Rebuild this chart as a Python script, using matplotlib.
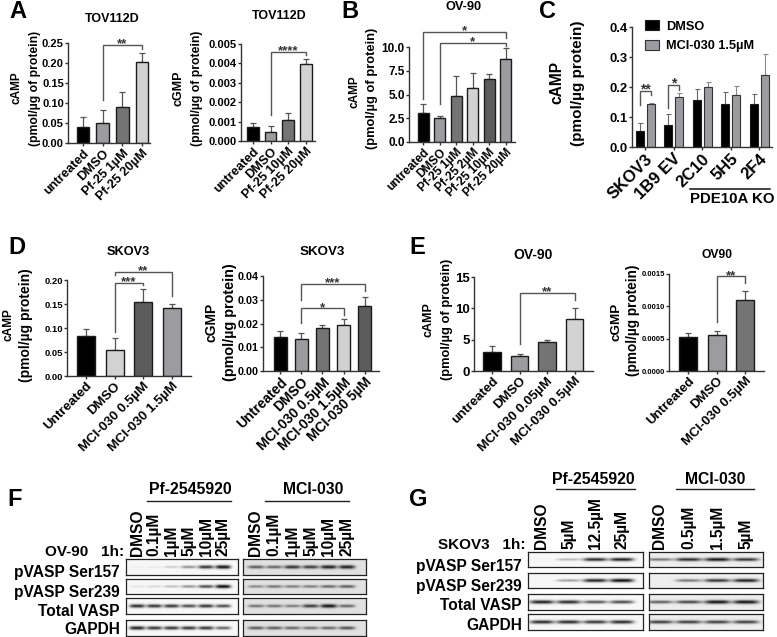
import numpy as np
import matplotlib
matplotlib.use("Agg")
import matplotlib.pyplot as plt

plt.rcParams['font.family'] = ['Liberation Sans', 'DejaVu Sans']
plt.rcParams['font.weight'] = 'bold'

W, H = 777, 637
BLACK, MID, DARK, LIGHT, DEEP = '#000000', '#9b9ba0', '#747474', '#d2d2d2', '#5c5c5c'
EDGE = '#1c1c1c'

# --- bar data ---
a1_labels = ['untreated', 'DMSO', 'Pf-25 1µM', 'Pf-25 20µM']
a1_values = [0.041, 0.049, 0.091, 0.203]
a1_errors = [0.024, 0.034, 0.036, 0.022]

a2_labels = ['untreated', 'DMSO', 'Pf-25 10µM', 'Pf-25 20µM']
a2_values = [0.00073, 0.00047, 0.00107, 0.00397]
a2_errors = [0.00019, 0.00028, 0.00036, 0.00026]

b_labels = ['untreated', 'DMSO', 'Pf-25 1µM', 'Pf-25 2µM', 'Pf-25 10µM', 'Pf-25 20µM']
b_values = [3.05, 2.55, 4.8, 5.65, 6.6, 8.75]
b_errors = [1.0, 0.2, 2.1, 1.65, 0.55, 1.1]

c_labels = ['SKOV3', '1B9 EV', '2C10', '5H5', '2F4']
c_dmso = [0.053, 0.075, 0.158, 0.144, 0.145]
c_dmso_err = [0.027, 0.035, 0.034, 0.038, 0.031]
c_mci = [0.142, 0.166, 0.200, 0.174, 0.240]
c_mci_err = [0.006, 0.014, 0.018, 0.028, 0.070]

d1_labels = ['Untreated', 'DMSO', 'MCI-030 0.5µM', 'MCI-030 1.5µM']
d1_values = [0.083, 0.054, 0.155, 0.142]
d1_errors = [0.014, 0.025, 0.026, 0.008]

d2_labels = ['Untreated', 'DMSO', 'MCI-030 0.5µM', 'MCI-030 1.5µM', 'MCI-030 5µM']
d2_values = [0.0143, 0.0135, 0.0180, 0.0194, 0.0275]
d2_errors = [0.0024, 0.0023, 0.0012, 0.0024, 0.0038]

e1_labels = ['untreated', 'DMSO', 'MCI-030 0.05µM', 'MCI-030 0.5µM']
e1_values = [3.05, 2.45, 4.55, 8.3]
e1_errors = [0.95, 0.25, 0.45, 1.8]

e2_labels = ['Untreated', 'DMSO', 'MCI-030 0.5µM']
e2_values = [0.00053, 0.00056, 0.00110]
e2_errors = [0.00006, 0.00006, 0.00014]

# --- blot band strengths, one row per antibody ---
f_left = [[.03, .05, .15, .40, .80, .95],
          [.08, .12, .22, .40, .70, 1.0],
          [.85, .80, .80, .70, .80, .70],
          [.90, .80, .80, .80, .80, .60]]
f_right = [[.60, .55, .80, .75, .90, .90],
           [.40, .50, .45, .45, .55, .60],
           [.50, .50, .45, .75, .95, .55],
           [.60, .60, .55, .50, .55, .65]]
g_left = [[.00, .25, .85, .90],
          [.00, .35, .90, 1.0],
          [.90, .85, .65, .70],
          [.85, .85, .80, .85]]
g_right = [[.50, .85, .95, .80],
           [.00, .50, .80, .90],
           [.60, .70, .95, .95],
           [.75, .75, .75, .75]]
f_lanes_left = ['DMSO', '0.1µM', '1µM', '5µM', '10µM', '25µM']
g_lanes_left = ['DMSO', '5µM', '12.5µM', '25µM']
g_lanes_right = ['DMSO', '0.5µM', '1.5µM', '5µM']
row_names = ['pVASP Ser157', 'pVASP Ser239', 'Total VASP', 'GAPDH']

fig = plt.figure(figsize=(W / 100, H / 100), dpi=100)


def px_axes(x0, x1, ytop, ybot):
    return fig.add_axes([x0 / W, 1 - ybot / H, (x1 - x0) / W, (ybot - ytop) / H])


def put(x, y, s, size=8, **kw):
    kw.setdefault('ha', 'center')
    kw.setdefault('va', 'center')
    fig.text(x / W, 1 - y / H, s, fontsize=size, **kw)


def style_axes(ax, yticks, yfmt, tick_size):
    for side in ['top', 'right']:
        ax.spines[side].set_visible(False)
    for side in ['left', 'bottom']:
        ax.spines[side].set_linewidth(1.0)
        ax.spines[side].set_color('#333333')
    ax.set_ylim(yticks[0], yticks[-1])
    ax.set_yticks(yticks)
    ax.set_yticklabels([yfmt % t for t in yticks], fontsize=tick_size)
    ax.tick_params(axis='both', length=2, width=1.0, pad=1, color='#333333')


def add_bracket(ax, i, j, y_start, y_top, y_end, stars, size=9.5):
    ax.plot([i, i, j, j], [y_start, y_top, y_top, y_end], color='#555555', lw=1.0, clip_on=False, solid_joinstyle='miter')
    ax.annotate(stars, ((i + j) / 2, y_top), xytext=(0, -4), textcoords='offset points', ha='center', va='bottom', fontsize=size, annotation_clip=False, color='#333333')


def bar_panel(box, first, step, width, labels, values, errors, colors, yticks, yfmt, tick_size=7.5, label_size=7.5, brackets=()):
    x0, x1, ytop, ybot = box
    ax = px_axes(*box)
    pos = np.arange(len(values))
    ax.bar(pos, values, width=width / step, color=colors, edgecolor=EDGE, linewidth=1.0, zorder=2)
    ax.errorbar(pos, values, yerr=[np.zeros(len(values)), errors], fmt='none', ecolor='#555555', elinewidth=0.9, capsize=2.2, capthick=0.9, zorder=1)
    ax.set_xlim((x0 - first) / step, (x1 - first) / step)
    style_axes(ax, yticks, yfmt, tick_size)
    ax.set_xticks(pos)
    ax.set_xticklabels(labels, rotation=45, ha='right', rotation_mode='anchor', fontsize=label_size)
    for b in brackets:
        add_bracket(ax, *b)
    return ax


# --- panel A ---
bar_panel((68, 150, 43, 143), 83, 19.7, 12.7, a1_labels, a1_values, a1_errors, [BLACK, MID, DARK, LIGHT],
          [0, 0.05, 0.10, 0.15, 0.20, 0.25], '%.2f', tick_size=8, label_size=9.2,
          brackets=[(1, 3, 0.1075, 0.245, 0.235, '**')])
put(112, 19, 'TOV112D', 9)
put(17, 88, 'cAMP', 8.5, rotation=90)
put(35, 88, '(pmol/µg of protein)', 8.7, rotation=90)

bar_panel((241, 315, 44, 141), 253, 17.6, 11.5, a2_labels, a2_values, a2_errors, [BLACK, MID, DARK, LIGHT],
          [0, 0.001, 0.002, 0.003, 0.004, 0.005], '%.3f', tick_size=8, label_size=9.2,
          brackets=[(1, 3, 0.00134, 0.0046, 0.00443, '****')])
put(279, 16, 'TOV112D', 9)
put(178, 88, 'cGMP', 9, rotation=90)
put(197, 88, '(pmol/µg of protein)', 8.8, rotation=90)

# --- panel B ---
bar_panel((409, 515, 47, 142), 423, 16.5, 11, b_labels, b_values, b_errors, [BLACK, MID, DARK, LIGHT, DEEP, MID],
          [0, 2.5, 5.0, 7.5, 10.0], '%.1f', tick_size=8.5, label_size=8.6,
          brackets=[(0, 5, 4.56, 11.58, 10.9, '*'), (1, 5, 4.0, 10.46, 10.1, '*')])
put(464, 7, 'OV-90', 9.2)
put(355, 92, 'cAMP', 8.5, rotation=90)
put(372, 88, '(pmol/µg of protein)', 9.3, rotation=90)

# --- panel C ---
axc = px_axes(632, 772, 27, 147)
c_pos = np.arange(len(c_labels))
c_step = 28.5
c_off = 5.5 / c_step
c_w = 8 / c_step
h1 = axc.bar(c_pos - c_off, c_dmso, width=c_w, color=BLACK, edgecolor=EDGE, linewidth=0.8, zorder=2, label='DMSO')
h2 = axc.bar(c_pos + c_off, c_mci, width=c_w, color=MID, edgecolor='#333333', linewidth=0.8, zorder=2, label='MCI-030 1.5µM')
axc.errorbar(c_pos - c_off, c_dmso, yerr=[np.zeros(5), c_dmso_err], fmt='none', ecolor='#666666', elinewidth=0.8, capsize=1.8, capthick=0.8, zorder=1)
axc.errorbar(c_pos + c_off, c_mci, yerr=[np.zeros(5), c_mci_err], fmt='none', ecolor='#888888', elinewidth=0.8, capsize=1.8, capthick=0.8, zorder=1)
axc.set_xlim((632 - 645) / c_step, (772 - 645) / c_step)
style_axes(axc, [0, 0.1, 0.2, 0.3, 0.4], '%.1f', 9.4)
axc.set_xticks(c_pos)
axc.set_xticklabels(c_labels, rotation=45, ha='right', rotation_mode='anchor', fontsize=12)
add_bracket(axc, -c_off, c_off, 0.139, 0.187, 0.172, '**', 10)
add_bracket(axc, 1 - c_off, 1 + c_off, 0.131, 0.208, 0.191, '*', 10)
axc.legend(handles=[h1, h2], loc='upper left', bbox_to_anchor=(0.09, 1.06), frameon=False, fontsize=9.2,
           handlelength=1.1, handleheight=0.9, handletextpad=0.55, labelspacing=0.55, borderpad=0, borderaxespad=0)
put(557, 83, 'cAMP', 11.2, rotation=90)
put(578, 83, '(pmol/µg protein)', 11, rotation=90)
fig.add_artist(plt.Line2D([690 / W, 770 / W], [1 - 189 / H, 1 - 189 / H], color='#111111', lw=1.1))
put(732, 199, 'PDE10A KO', 10.8)

# --- panel D ---
bar_panel((67, 191, 280, 376), 86, 28.6, 18, d1_labels, d1_values, d1_errors, [BLACK, LIGHT, DEEP, MID],
          [0, 0.05, 0.10, 0.15, 0.20], '%.2f', tick_size=6.8, label_size=9.6,
          brackets=[(1, 2, 0.091, 0.194, 0.19, '***'), (1, 3, 0.21, 0.217, 0.167, '**')])
put(128, 252, 'SKOV3', 9.2)
put(8, 325, 'cAMP', 8.6, rotation=90)
put(26, 325, '(pmol/µg protein)', 10, rotation=90)

bar_panel((263, 379, 276, 371), 280, 21.2, 13, d2_labels, d2_values, d2_errors, [BLACK, MID, DARK, LIGHT, DEEP],
          [0, 0.01, 0.02, 0.03, 0.04], '%.2f', tick_size=7.8, label_size=10,
          brackets=[(1, 3, 0.0201, 0.0264, 0.0234, '*'), (1, 4, 0.0299, 0.0366, 0.0337, '***')])
put(322, 252, 'SKOV3', 9.6)
put(212, 322, 'cGMP', 10, rotation=90)
put(230, 322, '(pmol/µg protein)', 10.4, rotation=90)

# --- panel E ---
bar_panel((474, 593, 277, 371), 492, 27.5, 17.5, e1_labels, e1_values, e1_errors, [BLACK, MID, DARK, LIGHT],
          [0, 5, 10, 15], '%d', tick_size=9.5, label_size=9.5,
          brackets=[(1, 3, 4.27, 12.44, 11.37, '**')])
put(533, 255, 'OV-90', 10)
put(428, 320, 'cAMP', 9, rotation=90)
put(447, 319, '(pmol/µg of protein)', 9.3, rotation=90)

bar_panel((669, 764, 274, 371), 688, 28.5, 18, e2_labels, e2_values, e2_errors, [BLACK, MID, DARK],
          [0, 0.0005, 0.0010, 0.0015], '%.4f', tick_size=5.5, label_size=9.5,
          brackets=[(1, 2, 0.000755, 0.001464, 0.00136, '**')])
put(717, 255, 'OV90', 8.7)
put(617, 322, 'cGMP', 9.7, rotation=90)
put(633, 320, '(pmol/µg protein)', 9.8, rotation=90)


# --- blots ---
def blot_strip(box, xlim, strengths, background, lanes=None, lane_size=11.2):
    ax = px_axes(*box)
    nx, ny = int(box[1] - box[0]) * 2, int(box[3] - box[2]) * 2
    xs = np.linspace(xlim[0], xlim[1], nx)
    ys = np.linspace(-1, 1, ny)
    img = np.zeros((ny, nx))
    for lane, s in enumerate(strengths):
        shape = np.exp(-((xs - lane) / 0.44) ** 4) * s
        img += np.outer(np.exp(-(ys / (0.12 + 0.11 * s)) ** 2), shape)
    img = background * (1 - np.clip(img, 0, 1) ** 0.9 * 0.97)
    ax.imshow(img, cmap='gray', vmin=0, vmax=1, aspect='auto', extent=(xlim[0], xlim[1], 1, -1), interpolation='bilinear')
    for s in ax.spines.values():
        s.set_linewidth(0.9)
        s.set_color('#222222')
    ax.set_yticks([])
    if lanes is None:
        ax.set_xticks([])
    else:
        ax.xaxis.tick_top()
        ax.set_xticks(np.arange(len(lanes)))
        ax.set_xticklabels(lanes, rotation=90, fontsize=lane_size, ha='center', va='bottom')
        ax.tick_params(axis='x', length=0, pad=2.5)
    return ax


f_rows = [(559, 575), (579, 594), (598, 614), (620, 636)]
for r, (yt, yb) in enumerate(f_rows):
    lanes = f_lanes_left if r == 0 else None
    blot_strip((126, 238, yt, yb), (-0.64, 5.85), f_left[r], 0.97, lanes)
    blot_strip((243, 366, yt, yb), (-0.71, 6.04), f_right[r], 0.88, lanes)

g_rows = [(552, 567), (573, 588), (594, 610), (614, 630)]
for r, (yt, yb) in enumerate(g_rows):
    blot_strip((528, 643, yt, yb), (-0.52, 3.79), g_left[r], 0.97, g_lanes_left if r == 0 else None)
    blot_strip((649, 763, yt, yb), (-0.38, 3.59), g_right[r], 0.93, g_lanes_right if r == 0 else None)

for name, y in zip(row_names, [573, 593, 611, 630]):
    put(120, y, name, 11.2, ha='right')
for name, y in zip(row_names, [567, 587, 606, 625]):
    put(522, y, name, 11.2, ha='right')
put(124, 552, 'OV-90   1h:', 11, ha='right')
put(525, 545, 'SKOV3   1h:', 11, ha='right')

put(190, 489, 'Pf-2545920', 11.4)
put(313, 489, 'MCI-030', 11.3)
put(593, 479, 'Pf-2545920', 11.4)
put(715, 479, 'MCI-030', 11.3)
for x0, x1, y in [(147, 231, 501), (265, 349, 501), (556, 635, 489), (676, 754, 489)]:
    fig.add_artist(plt.Line2D([x0 / W, x1 / W], [1 - y / H, 1 - y / H], color='#222222', lw=1.0))

# --- panel letters ---
for letter, x, y in [('A', 18, 12), ('B', 350, 11), ('C', 548, 11), ('D', 17, 247), ('E', 417, 247), ('F', 15, 500), ('G', 418, 500)]:
    put(x, y, letter, 17)

fig.savefig('out.png', dpi=100)
